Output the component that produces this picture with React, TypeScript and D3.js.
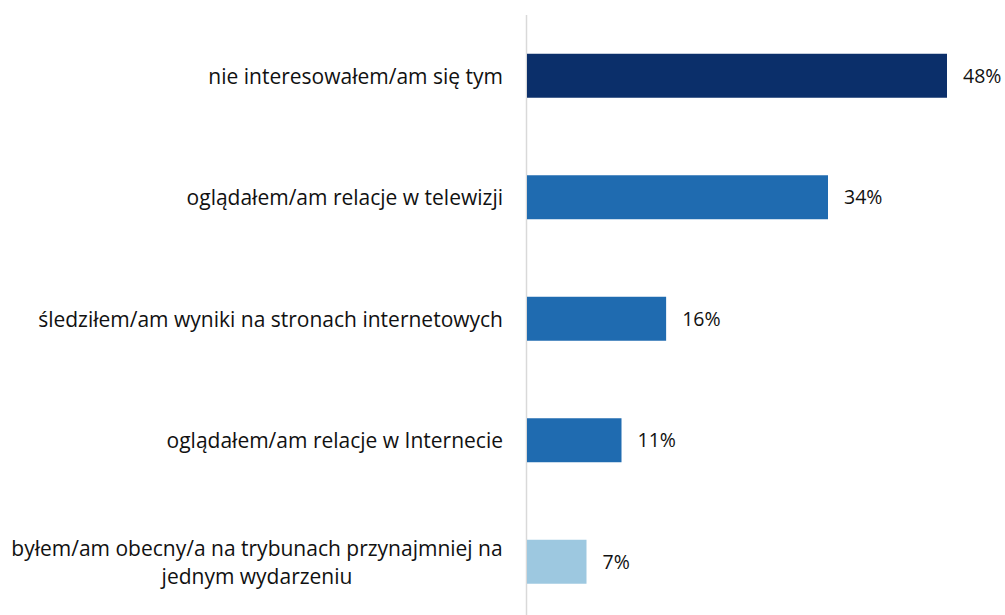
import React from "react";
import * as d3 from "d3";

const categories: string[][] = [
  ["nie interesowałem/am się tym"],
  ["oglądałem/am relacje w telewizji"],
  ["śledziłem/am wyniki na stronach internetowych"],
  ["oglądałem/am relacje w Internecie"],
  ["byłem/am obecny/a na trybunach przynajmniej na", "jednym wydarzeniu"],
];
const values: number[] = [48, 34.4, 15.9, 10.8, 6.8];
const valueLabels: string[] = ["48%", "34%", "16%", "11%", "7%"];
const colors: string[] = ["#0b2f6a", "#1f6bb0", "#1f6bb0", "#1f6bb0", "#9dc8e0"];

const W = 1005;
const H = 615;
const FONT = "'Open Sans', sans-serif";
const FS_CAT = 21;
const FS_VAL = 19.5;

export default function App() {
  const x = d3.scaleLinear().domain([0, 48]).range([527, 947]);
  const y = d3
    .scaleBand<number>()
    .domain(d3.range(values.length))
    .range([15, 622.5])
    .paddingInner(0.638)
    .paddingOuter(0.319);
  const bw = y.bandwidth();
  return (
    <svg
      width={W}
      height={H}
      style={{ position: "absolute", left: 0, top: 0, background: "#fff" }}
      fontFamily={FONT}
    >
      <line x1={526.5} x2={526.5} y1={15} y2={H} stroke="#d9d9d9" strokeWidth={1.5} />
      {values.map((v, i) => {
        const y0 = y(i)!;
        const cy = y0 + bw / 2;
        const lines = categories[i];
        const lh = 28;
        const centerX = 257;
        return (
          <g key={i}>
            <rect x={x(0)} y={y0} width={x(v) - x(0)} height={bw} fill={colors[i]} />
            <text x={x(v) + 16} y={cy} dy="0.36em" fill="#111" fontSize={FS_VAL}>
              {valueLabels[i]}
            </text>
            {lines.length === 1 ? (
              <text x={503} y={cy} dy="0.37em" textAnchor="end" fill="#111" fontSize={FS_CAT}>
                {lines[0]}
              </text>
            ) : (
              lines.map((l, j) => (
                <text
                  key={j}
                  x={centerX}
                  y={cy + (j - (lines.length - 1) / 2) * lh}
                  dy="0.37em"
                  textAnchor="middle"
                  fill="#111"
                  fontSize={FS_CAT}
                >
                  {l}
                </text>
              ))
            )}
          </g>
        );
      })}
    </svg>
  );
}
